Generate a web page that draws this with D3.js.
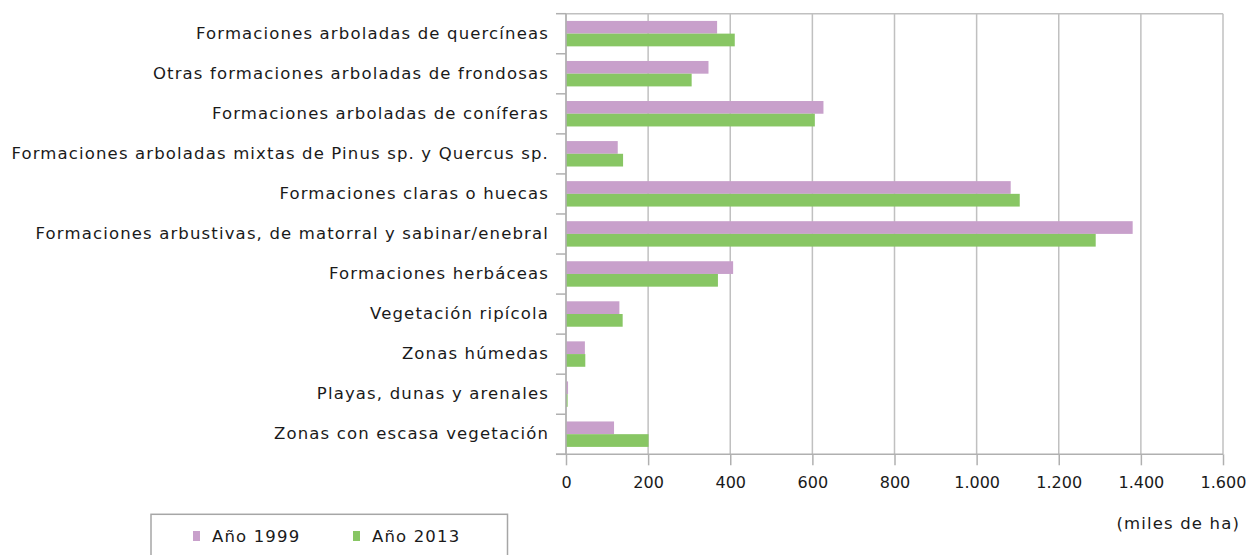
<!DOCTYPE html>
<html>
<head>
<meta charset="utf-8">
<script src="https://cdn.jsdelivr.net/npm/d3@7"></script>
<style>
  body { margin: 0; background: #fff; }
  svg text { font-family: "DejaVu Sans", sans-serif; fill: #1a1a1a; }
  .lbl { font-size: 16.5px; letter-spacing: 1.15px; }
</style>
</head>
<body>
<div id="chart"></div>
<script>
// categories, top to bottom
var categories = [
  "Formaciones arboladas de quercíneas",
  "Otras formaciones arboladas de frondosas",
  "Formaciones arboladas de coníferas",
  "Formaciones arboladas mixtas de Pinus sp. y Quercus sp.",
  "Formaciones claras o huecas",
  "Formaciones arbustivas, de matorral y sabinar/enebral",
  "Formaciones herbáceas",
  "Vegetación ripícola",
  "Zonas húmedas",
  "Playas, dunas y arenales",
  "Zonas con escasa vegetación"
];
var series = ["Año 1999", "Año 2013"];
var values1999 = [368, 347, 627, 126, 1083, 1380, 407, 130, 46, 5, 117];
var values2013 = [411, 306, 606, 139, 1105, 1290, 370, 138, 47, 4, 201];
var xTicks = [0, 200, 400, 600, 800, 1000, 1200, 1400, 1600];
var colors = ["#c8a0cb", "#88c664"];

var width = 1247, height = 555;
var plotLeft = 566, plotRight = 1223, plotTop = 13.7, plotBottom = 454.3;

var svg = d3.select("#chart").append("svg")
    .attr("width", width)
    .attr("height", height);

var x = d3.scaleLinear().domain([0, 1600]).range([plotLeft, plotRight]);
var y = d3.scaleBand().domain(categories).range([plotTop, plotBottom]).padding(0);
var ySub = d3.scaleBand().domain(series)
    .range([y.bandwidth() * 0.18, y.bandwidth() * 0.815]);

var locale = d3.formatLocale({decimal: ",", thousands: ".", grouping: [3], currency: ["", " €"]});
var fmt = locale.format(",d");

// grid lines
svg.append("g")
    .selectAll("line")
    .data(xTicks)
    .enter().append("line")
    .attr("x1", function(d) { return x(d); })
    .attr("x2", function(d) { return x(d); })
    .attr("y1", plotTop)
    .attr("y2", plotBottom)
    .attr("stroke", "#c0c0c0")
    .attr("stroke-width", 1.5);

// top border
svg.append("line")
    .attr("x1", plotLeft).attr("x2", plotRight)
    .attr("y1", plotTop).attr("y2", plotTop)
    .attr("stroke", "#c0c0c0").attr("stroke-width", 1.5);

// bars
var rows = categories.map(function(c, i) {
  return {cat: c, vals: [values1999[i], values2013[i]]};
});

var group = svg.append("g")
    .selectAll("g")
    .data(rows)
    .enter().append("g")
    .attr("transform", function(d) { return "translate(0," + y(d.cat) + ")"; });

group.selectAll("rect")
    .data(function(d) { return d.vals.map(function(v, i) { return {s: series[i], v: v, i: i}; }); })
    .enter().append("rect")
    .attr("x", x(0))
    .attr("y", function(d) { return ySub(d.s); })
    .attr("width", function(d) { return x(d.v) - x(0); })
    .attr("height", ySub.bandwidth())
    .attr("fill", function(d) { return colors[d.i]; });

// y axis line and category ticks
var yAxis = svg.append("g").attr("stroke", "#b0b0b0").attr("stroke-width", 1.5);
yAxis.append("line")
    .attr("x1", plotLeft).attr("x2", plotLeft)
    .attr("y1", plotTop).attr("y2", plotBottom);
yAxis.selectAll(".ytick")
    .data(categories.map(function(c) { return y(c); }).concat([plotBottom]))
    .enter().append("line")
    .attr("class", "ytick")
    .attr("x1", plotLeft - 10).attr("x2", plotLeft)
    .attr("y1", function(d) { return d; })
    .attr("y2", function(d) { return d; });

svg.append("g")
    .selectAll("text")
    .data(categories)
    .enter().append("text")
    .attr("class", "lbl")
    .attr("x", 549)
    .attr("y", function(d) { return y(d) + y.bandwidth() / 2 - 1; })
    .attr("dy", "0.35em")
    .attr("text-anchor", "end")
    .text(function(d) { return d; });

// x axis
var xAxis = svg.append("g")
    .attr("transform", "translate(0," + plotBottom + ")")
    .call(d3.axisBottom(x).tickValues(xTicks).tickFormat(fmt).tickSize(11).tickSizeOuter(0));
xAxis.select(".domain").remove();
xAxis.selectAll(".tick line").attr("stroke", "#b0b0b0").attr("stroke-width", 1.5);
xAxis.selectAll(".tick text")
    .attr("y", 22)
    .style("font-size", "16px")
    .style("font-family", "DejaVu Sans")
    .attr("fill", "#1a1a1a");
svg.append("line")
    .attr("x1", plotLeft - 10).attr("x2", plotRight)
    .attr("y1", plotBottom).attr("y2", plotBottom)
    .attr("stroke", "#b0b0b0").attr("stroke-width", 1.5);

svg.append("text")
    .attr("class", "lbl")
    .attr("x", 1240)
    .attr("y", 529)
    .attr("text-anchor", "end")
    .text("(miles de ha)");

// legend
var legend = svg.append("g");
legend.append("rect")
    .attr("x", 151).attr("y", 514.3)
    .attr("width", 356.5).attr("height", 60)
    .attr("fill", "none")
    .attr("stroke", "#a6a6a6")
    .attr("stroke-width", 1.5);

var legendX = [193, 353];
var item = legend.selectAll(".item")
    .data(series)
    .enter().append("g")
    .attr("class", "item")
    .attr("transform", function(d, i) { return "translate(" + legendX[i] + ",0)"; });
item.append("rect")
    .attr("x", 0).attr("y", 531)
    .attr("width", 7).attr("height", 10)
    .attr("fill", function(d, i) { return colors[i]; });
item.append("text")
    .attr("class", "lbl")
    .attr("x", 19).attr("y", 542)
    .text(function(d) { return d; });
</script>
</body>
</html>
